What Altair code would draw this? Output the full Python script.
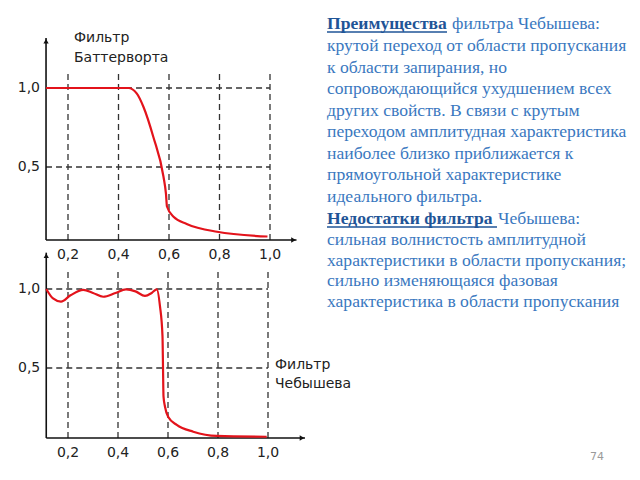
import altair as alt
import pandas as pd

# ---------------- data ----------------
tick_vals = [0.2, 0.4, 0.6, 0.8, 1.0]
tick_labels = ["0,2", "0,4", "0,6", "0,8", "1,0"]
ylab_vals = [0.5, 1.0]
ylab_labels = ["0,5", "1,0"]

butter_x = [0.113, 0.2, 0.3, 0.4, 0.439, 0.472, 0.499, 0.538, 0.578, 0.588, 0.592, 0.618, 0.67, 0.79, 0.99]
butter_y = [1.0, 1.0, 1.0, 1.0, 1.0, 0.966, 0.88, 0.69, 0.44, 0.33, 0.25, 0.185, 0.14, 0.09, 0.06]

cheb_x = [0.113, 0.14, 0.172, 0.21, 0.261, 0.30, 0.341, 0.39, 0.432, 0.47, 0.508, 0.535, 0.555,
          0.568, 0.578, 0.580, 0.582, 0.588, 0.601, 0.635, 0.701, 0.795, 0.995]
cheb_y = [1.0, 0.94, 0.92, 0.96, 0.994, 0.975, 0.951, 0.975, 0.998, 0.985, 0.956, 0.975, 0.998,
          0.89, 0.70, 0.51, 0.32, 0.255, 0.19, 0.14, 0.097, 0.07, 0.065]

head1 = "Преимущества"
head1_rest = "фильтра Чебышева:"
body1 = ["крутой переход от области пропускания", "к области запирания, но",
         "сопровождающийся ухудшением всех", "других свойств. В связи с крутым",
         "переходом амплитудная характеристика", "наиболее близко приближается к",
         "прямоугольной характеристике", "идеального фильтра."]
head2 = "Недостатки фильтра"
head2_rest = "Чебышева:"
body2 = ["сильная волнистость амплитудной", "характеристики в области пропускания;",
         "сильно изменяющаяся фазовая", "характеристика в области пропускания"]
page_no = "74"

# ---------------- scales (pixel placement of the two small plots) ----------------
PANELS = {
    "top": dict(x=alt.Scale(domain=[0.2, 1.0], range=[68, 270], nice=False, zero=False),
                y=alt.Scale(domain=[0.5, 1.0], range=[167, 88], nice=False, zero=False),
                x0=0.113, y0=0.038, xmax=1.105, ymax=1.316, gtop=1.10, lab_y=255),
    "bot": dict(x=alt.Scale(domain=[0.2, 1.0], range=[68, 268], nice=False, zero=False),
                y=alt.Scale(domain=[0.5, 1.0], range=[368, 289], nice=False, zero=False),
                x0=0.113, y0=0.057, xmax=1.148, ymax=1.23, gtop=1.12, lab_y=453),
}

RED = "#e3131b"
layers = []


def X(f, p, **kw):
    return alt.X(f, type="quantitative", scale=PANELS[p]["x"], axis=None, **kw)


def Y(f, p, **kw):
    return alt.Y(f, type="quantitative", scale=PANELS[p]["y"], axis=None, **kw)


for p, curve in (("top", (butter_x, butter_y)), ("bot", (cheb_x, cheb_y))):
    P = PANELS[p]
    # horizontal dashed grid
    hg = pd.DataFrame({"y": ylab_vals, "x0": [P["x0"]] * 2, "x1": [1.0] * 2})
    layers.append(alt.Chart(hg).mark_rule(color="#333333", strokeDash=[6, 4], strokeWidth=1.3)
                  .encode(x=X("x0", p), x2="x1", y=Y("y", p)))
    # vertical dashed grid
    vg = pd.DataFrame({"x": tick_vals, "y0": [P["y0"]] * 5, "y1": [P["gtop"]] * 5})
    layers.append(alt.Chart(vg).mark_rule(color="#333333", strokeDash=[6, 4], strokeWidth=1.3)
                  .encode(x=X("x", p), y=Y("y0", p), y2="y1"))
    # axes
    ax = pd.DataFrame({"x0": [P["x0"], P["x0"]], "x1": [P["x0"], P["xmax"]],
                       "y0": [P["y0"], P["y0"]], "y1": [P["ymax"], P["y0"]]})
    layers.append(alt.Chart(ax).mark_rule(color="#111111", strokeWidth=1.6)
                  .encode(x=X("x0", p), x2="x1", y=Y("y0", p), y2="y1"))
    # arrow heads
    ah = pd.DataFrame({"x": [P["x0"]], "y": [P["ymax"] - 0.02]})
    layers.append(alt.Chart(ah).mark_point(shape="triangle-up", filled=True, size=28,
                                           color="#111111", opacity=1)
                  .encode(x=X("x", p), y=Y("y", p)))
    ar = pd.DataFrame({"x": [P["xmax"] - 0.012], "y": [P["y0"]]})
    layers.append(alt.Chart(ar).mark_point(shape="triangle-right", filled=True, size=28,
                                           color="#111111", opacity=1)
                  .encode(x=X("x", p), y=Y("y", p)))
    # curve
    cv = pd.DataFrame({"x": curve[0], "y": curve[1]})
    layers.append(alt.Chart(cv).mark_line(color=RED, strokeWidth=2.2, interpolate="monotone")
                  .encode(x=X("x", p, sort=None), y=Y("y", p)))
    # x tick labels
    xl = pd.DataFrame({"x": tick_vals, "t": tick_labels})
    layers.append(alt.Chart(xl).mark_text(font="DejaVu Sans", fontSize=14, color="#222222",
                                          baseline="middle", align="center")
                  .encode(x=X("x", p), y=alt.value(P["lab_y"]), text="t:N"))
    # y tick labels
    yl = pd.DataFrame({"y": ylab_vals, "t": ylab_labels})
    layers.append(alt.Chart(yl).mark_text(font="DejaVu Sans", fontSize=14, color="#222222",
                                          baseline="middle", align="right", dx=-6)
                  .encode(x=X("x", p), y=Y("y", p), text="t:N")
                  .transform_calculate(x=str(P["x0"])))

one = pd.DataFrame({"k": [0]})

# filter titles
layers.append(alt.Chart(one).mark_text(text=["Фильтр", "Баттерворта"], font="DejaVu Sans",
                                       fontSize=14, color="#222222", align="left",
                                       baseline="middle", lineHeight=20)
              .encode(x=alt.value(74), y=alt.value(38)))
layers.append(alt.Chart(one).mark_text(text=["Фильтр", "Чебышева"], font="DejaVu Sans",
                                       fontSize=14, color="#222222", align="left",
                                       baseline="middle", lineHeight=19)
              .encode(x=alt.value(275), y=alt.value(365)))

# right-hand text
SERIF = "Liberation Serif"
HEAD = "#1f5597"
BODY = "#3a78c0"
FS = 17.6


def txt(t, x, y, color, bold=False, lh=21.5):
    return (alt.Chart(one).mark_text(text=t, font=SERIF, fontSize=FS, color=color,
                                     fontWeight="bold" if bold else "normal",
                                     align="left", baseline="alphabetic", lineHeight=lh)
            .encode(x=alt.value(x), y=alt.value(y)))


layers.append(txt(head1, 327, 29, HEAD, bold=True))
layers.append(txt(head1_rest, 452, 29, BODY))
layers.append(txt(body1, 327, 51, BODY))
layers.append(txt(head2, 327, 224, HEAD, bold=True))
layers.append(txt(head2_rest, 498, 224, BODY))
layers.append(txt(body2, 327, 245, BODY, lh=20.5))
# underlines
layers.append(alt.Chart(one).mark_rule(color=HEAD, strokeWidth=1.3)
              .encode(x=alt.value(327), x2=alt.value(447), y=alt.value(32)))
layers.append(alt.Chart(one).mark_rule(color=HEAD, strokeWidth=1.3)
              .encode(x=alt.value(327), x2=alt.value(497), y=alt.value(227)))
# page number
layers.append(alt.Chart(one).mark_text(text=page_no, font="DejaVu Sans", fontSize=11,
                                       color="#9a9a9a", align="center", baseline="middle")
              .encode(x=alt.value(597), y=alt.value(457)))

chart = (alt.layer(*layers)
         .resolve_scale(x="independent", y="independent")
         .properties(width=640, height=480, padding=0,
                     autosize=alt.AutoSizeParams(type="none"), background="white")
         .configure_view(stroke=None))

chart.save("out.html", embed_options={"renderer": "svg", "actions": False})
